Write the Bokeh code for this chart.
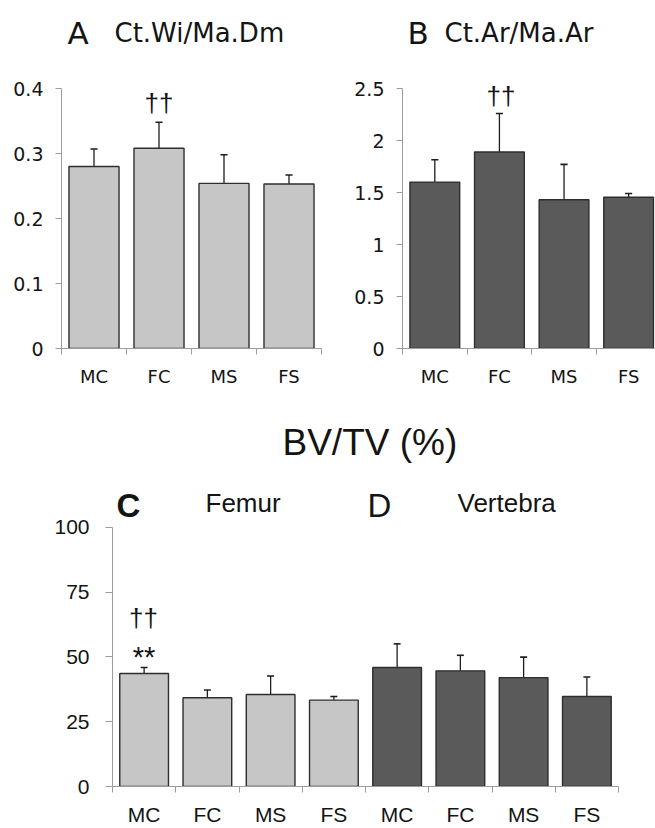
import numpy as np
from bokeh.plotting import figure
from bokeh.models import Range1d, FixedTicker, Label
from bokeh.layouts import column, row
from bokeh.embed import file_html
from bokeh.resources import INLINE

# ---------------- data ----------------
groups = ["MC", "FC", "MS", "FS"]
ctwi_mean = [0.280, 0.308, 0.254, 0.253]
ctwi_sd = [0.027, 0.040, 0.044, 0.014]
ctar_mean = [1.60, 1.89, 1.43, 1.455]
ctar_sd = [0.215, 0.37, 0.34, 0.035]
femur_mean = [43.6, 34.2, 35.5, 33.3]
femur_sd = [2.3, 3.0, 7.1, 1.4]
vert_mean = [45.9, 44.6, 42.0, 34.7]
vert_sd = [9.1, 6.0, 7.9, 7.5]
ticks_a = [0, 0.1, 0.2, 0.3, 0.4]
ticks_b = [0, 0.5, 1, 1.5, 2, 2.5]
ticks_cd = [0, 25, 50, 75, 100]

LIGHT = "#c6c6c6"
DARK = "#5a5a5a"
EDGE = "#2e2e2e"
AXIS = "#9c9c9c"
TXT = "#141414"
SANS = "Liberation Sans"
WIDE = "DejaVu Sans"


def make_panel(width, height, fig_x, fig_y, frame, n_show, n, ymax, ticks,
               tick_font, tick_size, cat_font, cat_size, cat_labels,
               ystand, xstand, ytick_len):
    """frame = (left, right, top, axis_top, bottom) in page pixels."""
    left, right, top, axis_top, bottom = frame
    ytop = ymax * (bottom - top) / (bottom - axis_top)
    p = figure(width=width, height=height,
               x_range=Range1d(0, n_show), y_range=Range1d(0, ytop),
               output_backend="svg", toolbar_location=None,
               min_border_left=left - fig_x, min_border_right=fig_x + width - right,
               min_border_top=top - fig_y, min_border_bottom=fig_y + height - bottom)
    p.outline_line_color = None
    p.grid.visible = False
    p.background_fill_color = "white"
    p.border_fill_color = "white"
    centers = [i + 0.5 for i in range(n)]
    edges = [float(i) for i in range(n + 1)]
    xa = p.xaxis[0]
    xa.ticker = FixedTicker(ticks=centers, minor_ticks=edges)
    xa.major_label_overrides = dict(zip(centers, cat_labels))
    xa.major_tick_out = 0
    xa.major_tick_in = 0
    xa.minor_tick_out = 6
    xa.minor_tick_in = 0
    xa.axis_line_color = AXIS
    xa.minor_tick_line_color = AXIS
    xa.major_label_standoff = xstand
    xa.major_label_text_font = cat_font
    xa.major_label_text_font_size = cat_size
    xa.major_label_text_color = TXT
    ya = p.yaxis[0]
    ya.ticker = FixedTicker(ticks=ticks)
    ya.bounds = (0, ymax)
    ya.major_label_overrides = {t: f"{t:g}" for t in ticks}
    ya.major_tick_out = ytick_len
    ya.major_tick_in = 0
    ya.minor_tick_out = 0
    ya.minor_tick_in = 0
    ya.axis_line_color = AXIS
    ya.major_tick_line_color = AXIS
    ya.major_label_standoff = ystand
    ya.major_label_text_font = tick_font
    ya.major_label_text_font_size = tick_size
    ya.major_label_text_color = TXT
    fx = lambda px: (px - left) / (right - left) * n_show
    fy = lambda py: (bottom - py) / (bottom - axis_top) * ymax
    return p, fx, fy


def bars(p, xs, means, sds, color):
    xs = np.asarray(xs, dtype=float)
    m = np.asarray(means, dtype=float)
    s = np.asarray(sds, dtype=float)
    top = m + s
    p.segment(x0=xs, y0=m, x1=xs, y1=top, line_color="#1e1e1e", line_width=1.3)
    p.vbar(x=xs, top=m, bottom=0, width=0.77, fill_color=color,
           line_color=EDGE, line_width=1.4)
    p.segment(x0=xs - 0.055, y0=top, x1=xs + 0.055, y1=top,
              line_color="#1e1e1e", line_width=1.6)


def add_text(p, fx, fy, px, base_py, text, font, size, align="left", bold=False):
    # place the text so that its alphabetic baseline lands on page row base_py
    mid_py = base_py - 0.35 * size
    p.add_layout(Label(x=fx(px), y=fy(mid_py), text=text, text_font=font,
                       text_font_size=f"{size}px", text_align=align,
                       text_baseline="middle", text_color=TXT,
                       text_font_style="bold" if bold else "normal"))


n4 = len(groups)
xs4 = np.arange(n4) + 0.5

# ---------------- Panel A ----------------
pa, fxa, fya = make_panel(335, 400, 0, 0, (61, 321, 4, 88, 348), n4, n4,
                          ticks_a[-1], ticks_a, WIDE, "19px", WIDE, "18px",
                          groups, 12, 11, 6)
bars(pa, xs4, ctwi_mean, ctwi_sd, LIGHT)
add_text(pa, fxa, fya, 67, 43.5, "A", WIDE, 31)
add_text(pa, fxa, fya, 114, 41.7, "Ct.Wi/Ma.Dm", WIDE, 26)
add_text(pa, fxa, fya, 158.5, 112, "††", SANS, 26, align="center")

# ---------------- Panel B ----------------
pb, fxb, fyb = make_panel(320, 400, 335, 0, (402, 654, 4, 88, 348), 3.9, n4,
                          ticks_b[-1], ticks_b, WIDE, "19px", WIDE, "18px",
                          groups, 12, 11, 6)
bars(pb, xs4, ctar_mean, ctar_sd, DARK)
add_text(pb, fxb, fyb, 407, 43.5, "B", WIDE, 31)
add_text(pb, fxb, fyb, 444, 41.7, "Ct.Ar/Ma.Ar", WIDE, 26)
add_text(pb, fxb, fyb, 500.5, 105, "††", SANS, 26, align="center")

# ---------------- Panels C & D ----------------
n8 = 2 * n4
pc, fxc, fyc = make_panel(655, 428, 0, 400, (112, 618, 404, 527, 787), n8, n8,
                          ticks_cd[-1], ticks_cd, SANS, "21px", SANS, "21px",
                          groups + groups, 16, 10, 7)
bars(pc, xs4, femur_mean, femur_sd, LIGHT)
bars(pc, xs4 + n4, vert_mean, vert_sd, DARK)
add_text(pc, fxc, fyc, 282, 455, "BV/TV (%)", SANS, 37)
add_text(pc, fxc, fyc, 116, 517, "C", SANS, 33, bold=True)
add_text(pc, fxc, fyc, 205, 512, "Femur", SANS, 26)
add_text(pc, fxc, fyc, 367, 517, "D", SANS, 33)
add_text(pc, fxc, fyc, 457, 512, "Vertebra", SANS, 26)
add_text(pc, fxc, fyc, 143, 627, "††", SANS, 26, align="center")
add_text(pc, fxc, fyc, 143.5, 667, "**", SANS, 29, align="center")

layout = column(row(pa, pb, spacing=0), pc, spacing=0)

open("out.html", "w").write(file_html(layout, INLINE))
